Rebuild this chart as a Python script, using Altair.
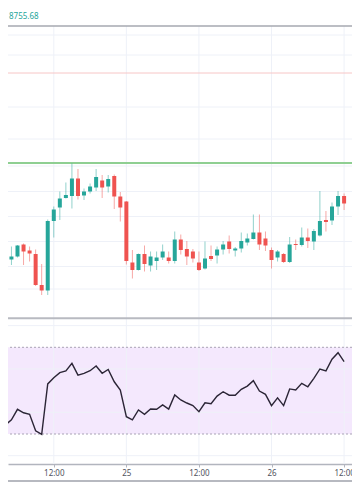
import altair as alt
import pandas as pd

# ---------------- data ----------------
start = "2019-11-24 04:00"
n_candles = 57  # hourly, 24th 04:00 .. 26th 12:00

opens  = [7123, 7117, 7123, 7147, 7135, 7128, 7066, 7055, 7194, 7221,
          7240, 7244, 7279, 7245, 7253, 7261, 7275, 7263, 7284, 7243,
          7233, 7111, 7096, 7128, 7105, 7114, 7121, 7121, 7114, 7157,
          7138, 7133, 7111, 7099, 7124, 7125, 7137, 7153, 7135, 7139,
          7151, 7158, 7171, 7159, 7136, 7121, 7128, 7112, 7148, 7146,
          7161, 7153, 7165, 7196, 7195, 7223, 7244]
highs  = [7128, 7143, 7146, 7149, 7143, 7137, 7108, 7197, 7223, 7253,
          7271, 7309, 7298, 7259, 7269, 7298, 7286, 7286, 7287, 7252,
          7234, 7136, 7129, 7145, 7133, 7133, 7147, 7133, 7173, 7167,
          7154, 7138, 7133, 7153, 7145, 7143, 7154, 7165, 7142, 7171,
          7169, 7207, 7207, 7173, 7141, 7136, 7130, 7162, 7157, 7181,
          7179, 7178, 7254, 7214, 7231, 7254, 7249]
lows   = [7104, 7106, 7121, 7106, 7113, 7064, 7046, 7046, 7161, 7196,
          7239, 7219, 7237, 7236, 7249, 7254, 7240, 7251, 7218, 7193,
          7107, 7079, 7095, 7093, 7093, 7096, 7116, 7109, 7109, 7127,
          7106, 7111, 7094, 7097, 7114, 7109, 7127, 7129, 7123, 7131,
          7145, 7157, 7136, 7134, 7099, 7113, 7110, 7110, 7136, 7143,
          7140, 7136, 7163, 7173, 7186, 7206, 7216]
closes = [7109, 7123, 7145, 7133, 7129, 7066, 7055, 7194, 7217, 7239,
          7246, 7279, 7244, 7253, 7263, 7282, 7261, 7278, 7243, 7221,
          7114, 7096, 7128, 7108, 7123, 7121, 7133, 7114, 7157, 7136,
          7123, 7119, 7096, 7119, 7118, 7137, 7147, 7138, 7139, 7154,
          7159, 7171, 7147, 7145, 7116, 7133, 7112, 7147, 7146, 7161,
          7154, 7174, 7194, 7192, 7223, 7244, 7229]
rsi    = [34.2, 36.5, 41.4, 39.8, 39.1, 31.5, 29.8, 53.1, 56.0, 58.3,
          59.1, 62.6, 57.2, 58.0, 59.2, 61.4, 58.0, 59.8, 54.1, 50.3,
          38.0, 36.5, 41.1, 39.1, 41.5, 41.4, 43.4, 41.5, 48.0, 45.7,
          44.3, 43.1, 40.3, 44.4, 44.0, 47.5, 49.5, 47.9, 47.9, 50.6,
          52.1, 54.6, 49.8, 48.3, 43.1, 46.7, 43.1, 50.8, 50.3, 53.4,
          51.8, 55.7, 60.0, 59.1, 64.5, 67.5, 63.4]

resistance = [7310]      # green level
upper_level = [7490]     # faint red level
price_grid = [7566, 7526, 7422, 7358, 7304, 7253, 7203, 7153, 7103, 7058]
rsi_grid = [80, 60, 40, 20]
rsi_band = [70, 30]
header_text = ["8755.68"]
tick_times = ["2019-11-24 12:00", "2019-11-25 00:00", "2019-11-25 12:00",
              "2019-11-26 00:00", "2019-11-26 12:00"]

# ---------------- tables ----------------
times = pd.date_range(start, periods=n_candles, freq="h")
df = pd.DataFrame({
    "t": times.strftime("%Y-%m-%dT%H:%M:%SZ"),
    "o": opens, "h": highs, "l": lows, "c": closes, "rsi": rsi,
})
df["dir"] = ["up" if c >= o else "down" for o, c in zip(opens, closes)]


def ms(s):
    return int(pd.Timestamp(s, tz="UTC").value // 10**6)


ticks_ms = [ms(s) for s in tick_times]
ticks_df = pd.DataFrame({"t": [pd.Timestamp(s).strftime("%Y-%m-%dT%H:%M:%SZ") for s in tick_times]})

W, H = 344, 456
XSCALE = alt.Scale(type="utc", domain=[ms("2019-11-24 05:15:25"), ms("2019-11-26 12:28:48")])
XAXIS = alt.Axis(
    values=ticks_ms,
    labelExpr="utchours(datum.value) == 0 ? utcFormat(datum.value, '%d') : utcFormat(datum.value, '%H:%M')",
    grid=False, title=None, domainColor="#b2b5be", domainWidth=1.5,
    tickColor="#b2b5be", tickSize=3, labelColor="#50535e", labelFontSize=8,
    labelFont="Noto Sans", labelPadding=2, labelFlush=False,
)
X = alt.X("t:T", scale=XSCALE, axis=XAXIS)
PRICE = alt.Scale(domain=[6998, 7620], range=[311, 0], zero=False, nice=False)
RSIS = alt.Scale(domain=[16.16, 83.06], range=[456, 311], zero=False, nice=False)

GRID = "#eef1f8"

band = alt.Chart(pd.DataFrame({"top": [rsi_band[0]], "bot": [rsi_band[1]]})).mark_rect(
    color="#f4e8fd").encode(
    y=alt.Y("top:Q", scale=RSIS, axis=None), y2="bot:Q")

pgrid = alt.Chart(pd.DataFrame({"v": price_grid})).mark_rule(color=GRID).encode(
    y=alt.Y("v:Q", scale=PRICE, axis=None))
rgrid = alt.Chart(pd.DataFrame({"v": rsi_grid})).mark_rule(color=GRID).encode(
    y=alt.Y("v:Q", scale=RSIS, axis=None))
vgrid = alt.Chart(ticks_df).mark_rule(color=GRID).encode(
    x=X, y=alt.value(18), y2=alt.value(H))

band_lines = alt.Chart(pd.DataFrame({"v": rsi_band})).mark_rule(
    color="#a9a3b5", strokeDash=[2, 2], strokeWidth=1).encode(
    y=alt.Y("v:Q", scale=RSIS, axis=None))

red_line = alt.Chart(pd.DataFrame({"v": upper_level})).mark_rule(
    color="#f7c6c6", strokeWidth=1).encode(y=alt.Y("v:Q", scale=PRICE, axis=None))
green_line = alt.Chart(pd.DataFrame({"v": resistance})).mark_rule(
    color="#8fcf92", strokeWidth=2).encode(y=alt.Y("v:Q", scale=PRICE, axis=None))

COLOR = alt.Color("dir:N", scale=alt.Scale(domain=["up", "down"], range=["#26a69a", "#ef5350"]), legend=None)

wicks = alt.Chart(df).mark_rule(strokeWidth=1, opacity=0.5).encode(
    x=X, y=alt.Y("l:Q", scale=PRICE, axis=None), y2="h:Q", color=COLOR)
bodies = alt.Chart(df).mark_bar(size=4).encode(
    x=X, y=alt.Y("o:Q", scale=PRICE, axis=None), y2="c:Q", color=COLOR)

rsi_line = alt.Chart(df).mark_line(color="#2b2536", strokeWidth=1.4, clip=True).encode(
    x=X, y=alt.Y("rsi:Q", scale=RSIS, axis=None))

top_border = alt.Chart(pd.DataFrame({"v": [7584]})).mark_rule(
    color="#a6a9b1", strokeWidth=1.5).encode(y=alt.Y("v:Q", scale=PRICE, axis=None))
sep_border = alt.Chart(pd.DataFrame({"v": [6999.4]})).mark_rule(
    color="#b8bac1", strokeWidth=2).encode(y=alt.Y("v:Q", scale=PRICE, axis=None))
bottom_border = alt.Chart(pd.DataFrame({"v": [8.3]})).mark_rule(
    color="#9fa2ab", strokeWidth=1.5).encode(y=alt.Y("v:Q", scale=RSIS, axis=None))

header = alt.Chart(pd.DataFrame({"label": header_text})).mark_text(
    align="left", baseline="middle", fontSize=8, color="#26a69a", font="Noto Sans").encode(
    x=alt.value(1), y=alt.value(9), text="label:N")

chart = alt.layer(
    band, pgrid, rgrid, vgrid, band_lines, red_line, green_line,
    wicks, bodies, rsi_line, top_border, sep_border, bottom_border, header,
).resolve_scale(y="independent").properties(
    width=W, height=H,
    padding={"left": 0, "right": 0, "top": 0, "bottom": 30},
    autosize=alt.AutoSizeParams(type="none"),
    background="white",
).configure_view(stroke=None)

chart.save("out.html", embed_options={"renderer": "svg", "actions": False})
